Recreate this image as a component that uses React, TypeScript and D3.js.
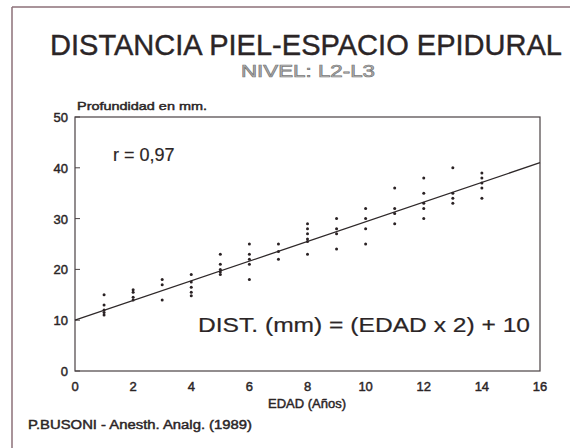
import React from "react";
import * as d3 from "d3";

const title = "DISTANCIA PIEL-ESPACIO EPIDURAL";
const subtitle = "NIVEL: L2-L3";
const yAxisTitle = "Profundidad en mm.";
const xAxisTitle = "EDAD (Años)";
const source = "P.BUSONI - Anesth. Analg. (1989)";
const rLabel = "r = 0,97";
const formula = "DIST. (mm) = (EDAD x 2) + 10";

const xTicks = [0, 2, 4, 6, 8, 10, 12, 14, 16];
const yTicks = [0, 10, 20, 30, 40, 50];

const ages = [1, 2, 3, 4, 5, 6, 7, 8, 9, 10, 11, 12, 13, 14];
const depths: number[][] = [
  [15, 13, 12, 11.5, 11],
  [16, 15.5, 14.5, 14],
  [18, 17, 14],
  [19, 17.5, 16.5, 15.5, 14.8],
  [23, 21, 20, 19.5, 19],
  [25, 23, 22, 21, 18],
  [25, 23.5, 22],
  [29, 28, 27, 26, 25.5, 23],
  [30, 28, 27, 24],
  [32, 30, 28, 25],
  [36, 32, 31, 29],
  [38, 35, 33, 32, 30],
  [40, 35, 34, 33],
  [39, 38, 37, 36, 34],
];

const fitLine = [
  { x: 0, y: 10 },
  { x: 16, y: 41 },
];

const W = 570;
const H = 448;
const plot = { left: 75, right: 540, top: 117, bottom: 371 };

export default function App() {
  const x = d3.scaleLinear().domain([0, 16]).range([plot.left, plot.right]);
  const y = d3.scaleLinear().domain([0, 50]).range([plot.bottom, plot.top]);
  const line = d3
    .line<{ x: number; y: number }>()
    .x((d) => x(d.x))
    .y((d) => y(d.y));

  const points = ages.flatMap((a, i) => depths[i].map((v) => ({ a, v })));
  const font = "'Liberation Sans', Arial, Helvetica, sans-serif";
  const ink = "#2b2526";
  const semi = { stroke: ink, strokeWidth: 0.45 };

  return (
    <div style={{ position: "absolute", left: 0, top: 0 }}>
      <svg width={W} height={H} style={{ display: "block", background: "#fff" }} fontFamily={font}>
        {/* outer frame */}
        <line x1={12} y1={7} x2={570} y2={7} stroke="#8c7178" strokeWidth={1.5} />
        <line x1={12} y1={7} x2={12} y2={448} stroke="#8c7178" strokeWidth={1.5} />

        <text x={50} y={55} fontSize={29} fill={ink} stroke={ink} strokeWidth={0.4} textLength={512} lengthAdjust="spacingAndGlyphs">
          {title}
        </text>
        <text
          x={241}
          y={77}
          fontSize={17}
          fill="#b8b8b8"
          stroke="#7a7a7a"
          strokeWidth={0.7}
          textLength={134}
          lengthAdjust="spacingAndGlyphs"
        >
          {subtitle}
        </text>

        <text x={77} y={110} fontSize={11.5} fill={ink} {...semi} textLength={130} lengthAdjust="spacingAndGlyphs">
          {yAxisTitle}
        </text>

        {/* plot frame */}
        <rect
          x={plot.left}
          y={plot.top}
          width={plot.right - plot.left}
          height={plot.bottom - plot.top}
          fill="none"
          stroke="#4a4244"
          strokeWidth={1.2}
        />

        {yTicks.map((t) => (
          <g key={"y" + t}>
            <line x1={plot.left} x2={plot.left + 5} y1={y(t)} y2={y(t)} stroke="#4a4244" strokeWidth={1} />
            <text x={68} y={y(t) + 5} fontSize={13} textAnchor="end" fill={ink} {...semi}>
              {t}
            </text>
          </g>
        ))}
        {xTicks.map((t) => (
          <text key={"x" + t} x={x(t)} y={391} fontSize={13} textAnchor="middle" fill={ink} {...semi}>
            {t}
          </text>
        ))}

        <text x={268} y={408} fontSize={12.5} fill={ink} {...semi} textLength={78} lengthAdjust="spacingAndGlyphs">
          {xAxisTitle}
        </text>
        <text x={28} y={429} fontSize={12.5} fill={ink} {...semi} textLength={224} lengthAdjust="spacingAndGlyphs">
          {source}
        </text>

        <path d={line(fitLine) || ""} fill="none" stroke="#2e2829" strokeWidth={1.3} />

        {points.map((p, i) => (
          <circle key={i} cx={x(p.a)} cy={y(p.v)} r={1.5} fill="#2a2224" />
        ))}

        <text x={113} y={161} fontSize={18} fill={ink} stroke={ink} strokeWidth={0.2}>
          {rLabel}
        </text>
        <text x={198} y={332} fontSize={20.5} fill={ink} stroke={ink} strokeWidth={0.2} textLength={332} lengthAdjust="spacingAndGlyphs">
          {formula}
        </text>
      </svg>
    </div>
  );
}
